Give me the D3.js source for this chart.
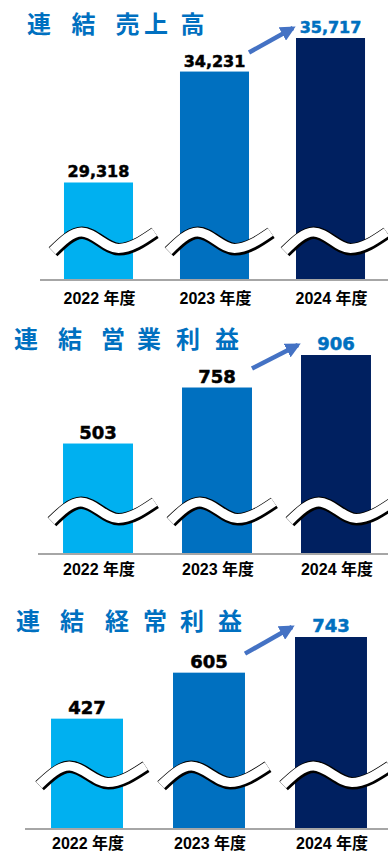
<!DOCTYPE html>
<html><head><meta charset="utf-8">
<script src="https://cdn.jsdelivr.net/npm/d3@7"></script>
<style>html,body{margin:0;padding:0;background:#fff;}svg{display:block;}</style>
</head><body>
<script>
// ---- data ----
const years = ["2022", "2023", "2024"];
const yearSuffix = "年度";
const salesValues = [29318, 34231, 35717];
const operatingProfitValues = [503, 758, 906];
const ordinaryProfitValues = [427, 605, 743];
const chartTitles = ["連結売上高", "連結営業利益", "連結経常利益"];
const axisMinimums = [25000, 0, 0];

// ---- layout ----
const W = 388, H = 851;
const barColors = ["#00B0F0", "#0070C0", "#002060"];
const accent = "#0070C0";
const arrowColor = "#4472C4";
const layouts = [
  {values: salesValues, title: chartTitles[0], axisMin: axisMinimums[0],
   titleY: 33, titleX: [39, 83.5, 127.5, 156, 192.5],
   baseline: 280, topPx: 38, xRange: [17, 412], pad: 0.405, lineStart: 40,
   valueSize: 16, labelDy: 24, waveUp: 40},
  {values: operatingProfitValues, title: chartTitles[1], axisMin: axisMinimums[1],
   titleY: 348, titleX: [26, 70, 113, 149, 188, 227],
   baseline: 554, topPx: 355, xRange: [14, 420], pad: 0.412, lineStart: 38,
   valueSize: 18, labelDy: 21, waveUp: 44},
  {values: ordinaryProfitValues, title: chartTitles[2], axisMin: axisMinimums[2],
   titleY: 630, titleX: [28, 72, 117, 155, 192, 230],
   baseline: 829, topPx: 637, xRange: [1, 417], pad: 0.41, lineStart: 25,
   valueSize: 18, labelDy: 19.5, waveUp: 55}
];

const svg = d3.select("body").append("svg").attr("width", W).attr("height", H);

const defs = svg.append("defs");
defs.append("marker").attr("id", "ah").attr("viewBox", "0 0 10 10")
  .attr("refX", 8).attr("refY", 5).attr("markerWidth", 3.4).attr("markerHeight", 3.4)
  .attr("orient", "auto").attr("markerUnits", "strokeWidth")
  .append("path").attr("d", "M0,0 L10,5 L0,10 Z").attr("fill", arrowColor);

const wavePts = [[-46, 11], [-17, -8], [20, 8.5], [56, -8]];
const waveLine = d3.line().curve(d3.curveMonotoneX);

layouts.forEach(L => {
  const g = svg.append("g");
  const x = d3.scaleBand().domain(years).range(L.xRange).padding(L.pad);
  const y = d3.scaleLinear().domain([L.axisMin, d3.max(L.values)]).range([L.baseline, L.topPx]);
  const data = years.map((yr, i) => ({yr, v: L.values[i], i}));

  // title
  const t = g.append("text").attr("y", L.titleY)
    .attr("font-family", "'Noto Sans CJK JP', sans-serif").attr("font-weight", 700)
    .attr("font-size", 24).attr("fill", accent).attr("text-anchor", "middle");
  Array.from(L.title).forEach((ch, j) => {
    t.append("tspan").attr("x", L.titleX[j]).attr("y", L.titleY).text(ch);
  });

  // bars
  g.selectAll("rect.bar").data(data).join("rect").attr("class", "bar")
    .attr("x", d => x(d.yr)).attr("width", x.bandwidth())
    .attr("y", d => y(d.v)).attr("height", d => L.baseline - y(d.v))
    .attr("fill", d => barColors[d.i]);

  // break waves
  const s = x.bandwidth() / 69;
  data.forEach(d => {
    const cx = x(d.yr) + x.bandwidth() / 2;
    const cy = L.baseline - L.waveUp;
    const pts = wavePts.map(p => [cx + p[0] * s, cy + p[1]]);
    const dstr = waveLine(pts);
    g.append("path").attr("d", dstr).attr("transform", "translate(0.6,0.8)")
      .attr("fill", "none").attr("stroke", "#000").attr("stroke-width", 12.5);
    g.append("path").attr("d", dstr)
      .attr("fill", "none").attr("stroke", "#fff").attr("stroke-width", 9);
  });

  // baseline axis
  const axis = d3.axisBottom(x).tickSize(0).tickPadding(0)
    .tickFormat(d => d + " " + yearSuffix);
  const ag = g.append("g").attr("transform", `translate(0,${L.baseline})`).call(axis);
  ag.select(".domain").remove();
  ag.append("line").attr("x1", L.lineStart).attr("x2", W).attr("y1", 0).attr("y2", 0)
    .attr("stroke", "#A6A6A6").attr("stroke-width", 2);
  ag.selectAll(".tick text").attr("y", L.labelDy).attr("dy", 0)
    .attr("font-family", "'Liberation Sans', 'Noto Sans CJK JP', sans-serif")
    .attr("font-weight", 700).attr("font-size", 16).attr("fill", "#000")
    .attr("dx", 1);

  // value labels
  g.selectAll("text.val").data(data).join("text").attr("class", "val")
    .attr("x", d => x(d.yr) + x.bandwidth() / 2).attr("y", d => y(d.v) - 5)
    .attr("text-anchor", "middle")
    .attr("font-family", "'DejaVu Sans', sans-serif").attr("font-weight", 700)
    .attr("font-size", L.valueSize)
    .attr("fill", d => d.i === years.length - 1 ? accent : "#000")
    .attr("stroke", d => d.i === years.length - 1 ? accent : "#000")
    .attr("stroke-width", 0.5)
    .text(d => d3.format(",")(d.v));

  // growth arrow
  const a = data[1], b = data[2];
  g.append("line")
    .attr("x1", x(a.yr) + x.bandwidth()).attr("y1", y(a.v) - 19)
    .attr("x2", x(b.yr) - 3).attr("y2", y(b.v) - 10)
    .attr("stroke", arrowColor).attr("stroke-width", 4.5)
    .attr("marker-end", "url(#ah)");
});
</script>
</body></html>
